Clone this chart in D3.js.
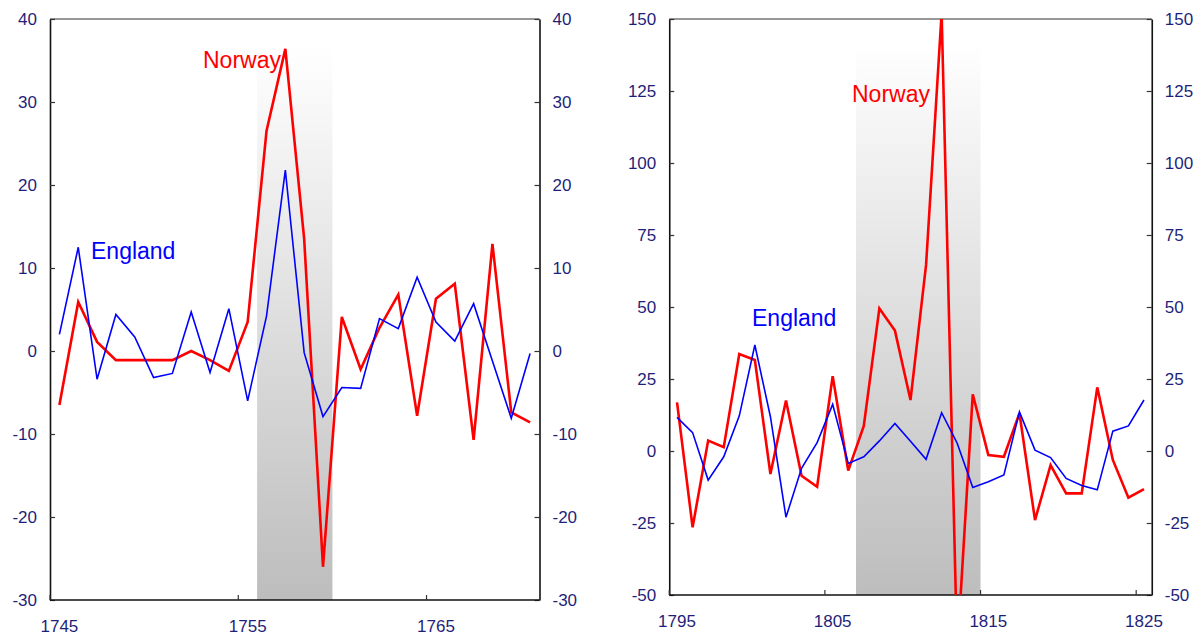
<!DOCTYPE html>
<html>
<head>
<meta charset="utf-8">
<style>
    body { margin: 0; background: #fff; }
    svg { display: block; font-family: "Liberation Sans", Arial, sans-serif; }
    .tick-label { font-size: 17px; fill: #1f1f7a; }
    .serie-label { font-size: 23px; }
</style>
<script src="https://cdn.jsdelivr.net/npm/d3@7"></script>
</head>
<body>
<svg width="1200" height="635"></svg>
<script>
    // painel esquerdo: 1745-1770
    var anosA = d3.range(1745, 1771);
    var inglaterraA = [2.0, 12.5, -3.4, 4.4, 1.7, -3.2, -2.7, 4.7, -2.6, 5.1, -6.0, 4.2, 21.8,
        -0.2, -7.9, -4.4, -4.5, 3.9, 2.7, 8.9, 3.5, 1.2, 5.7, -1.2, -8.1, -0.3];
    var noruegaA = [-6.5, 5.9, 1.1, -1.1, -1.1, -1.1, -1.1, 0.0, -1.1, -2.4, 3.5, 26.5, 36.4,
        13.5, -26.0, 4.1, -2.2, 2.8, 6.8, -7.8, 6.3, 8.1, -10.7, 12.9, -7.4, -8.6];
    var rotulosA = [1745, 1755, 1765];
    var ticksYA = d3.range(-30, 41, 10);
    var sombraA = [1756, 1759, 36.8];

    // painel direito: 1795-1825
    var anosB = d3.range(1795, 1826);
    var inglaterraB = [11.7, 6.4, -10.1, -2.0, 12.2, 36.8, 11.9, -23.0, -6.0, 2.9, 16.2, -4.3,
        -2.0, 3.5, 9.6, 3.4, -2.9, 13.3, 2.7, -12.7, -10.7, -8.3, 13.6, 0.3, -2.3, -9.5,
        -12.0, -13.5, 6.9, 8.7, 17.7];
    var noruegaB = [16.9, -26.5, 3.6, 1.3, 33.7, 31.6, -8.0, 17.5, -8.6, -12.4, 26.0, -6.8,
        8.7, 49.5, 41.8, 17.7, 64.6, 152, -70, 19.7, -1.4, -2.0, 13.1, -24.0, -4.9, -14.7,
        -14.7, 22.1, -3.1, -16.2, -13.2];
    var rotulosB = [1795, 1805, 1815, 1825];
    var ticksYB = d3.range(-50, 151, 25);
    var sombraB = [1807, 1814, 142.5];

    var svg = d3.select("svg");

    var defs = svg.append("defs");
    var grad = defs.append("linearGradient")
        .attr("id", "sombra")
        .attr("x1", 0).attr("y1", 0).attr("x2", 0).attr("y2", 1);
    grad.append("stop").attr("offset", "0%").attr("stop-color", "#ffffff");
    grad.append("stop").attr("offset", "100%").attr("stop-color", "#bdbdbd");

    function painel(id, cfg) {
        var x = d3.scaleBand().domain(cfg.anos).range([cfg.esq, cfg.dir]);
        var y = d3.scaleLinear().domain(cfg.dominioY).range([cfg.base, cfg.topo]);
        var g = svg.append("g");

        defs.append("clipPath").attr("id", "clip-" + id)
            .append("rect")
            .attr("x", cfg.esq).attr("y", cfg.topo)
            .attr("width", cfg.dir - cfg.esq).attr("height", cfg.base - cfg.topo);

        // faixa sombreada
        g.append("rect")
            .attr("x", x(cfg.sombra[0]))
            .attr("y", y(cfg.sombra[2]))
            .attr("width", x(cfg.sombra[1]) + x.bandwidth() - x(cfg.sombra[0]))
            .attr("height", cfg.base - y(cfg.sombra[2]))
            .attr("fill", "url(#sombra)");

        // moldura
        g.append("line")
            .attr("x1", cfg.esq).attr("x2", cfg.dir)
            .attr("y1", cfg.topo).attr("y2", cfg.topo)
            .attr("stroke", "#333").attr("stroke-width", 1.2);

        var fmt = function (d) { return String(d); };
        var eixoEsq = d3.axisLeft(y).tickValues(cfg.ticksY).tickFormat(fmt)
            .tickSizeInner(-5).tickSizeOuter(0).tickPadding(13);
        var eixoDir = d3.axisRight(y).tickValues(cfg.ticksY).tickFormat(fmt)
            .tickSizeInner(-5).tickSizeOuter(0).tickPadding(13);

        [[eixoEsq, cfg.esq], [eixoDir, cfg.dir]].forEach(function (e) {
            var ax = g.append("g")
                .attr("transform", "translate(" + e[1] + ",0)")
                .call(e[0]);
            ax.attr("font-size", null).attr("font-family", null);
            ax.select(".domain").attr("stroke", "#111").attr("stroke-width", 1.6);
            ax.selectAll(".tick line").attr("stroke", "#333").attr("stroke-width", 1.2);
            ax.selectAll(".tick text")
                .attr("class", "tick-label")
                .attr("fill", "#1f1f7a");
        });

        // eixo inferior
        g.append("line")
            .attr("x1", cfg.esq).attr("x2", cfg.dir)
            .attr("y1", cfg.base).attr("y2", cfg.base)
            .attr("stroke", "#111").attr("stroke-width", 1.6);

        g.selectAll(".xtick")
            .data(cfg.rotulos)
            .enter().append("line")
            .attr("x1", function (d) { return x(d); })
            .attr("x2", function (d) { return x(d); })
            .attr("y1", cfg.base)
            .attr("y2", cfg.base - 5)
            .attr("stroke", "#333").attr("stroke-width", 1.2);

        g.selectAll(".xlabel")
            .data(cfg.rotulos)
            .enter().append("text")
            .attr("class", "tick-label")
            .attr("x", function (d) { return x(d) + x.bandwidth() / 2; })
            .attr("y", cfg.base + 32)
            .attr("text-anchor", "middle")
            .text(function (d) { return d; });

        var linha = d3.line()
            .x(function (d, i) { return x(cfg.anos[i]) + x.bandwidth() / 2; })
            .y(function (d) { return y(d); });

        var plot = g.append("g").attr("clip-path", "url(#clip-" + id + ")");

        plot.append("path")
            .datum(cfg.noruega)
            .attr("d", linha)
            .attr("fill", "none")
            .attr("stroke", "#ff0000")
            .attr("stroke-width", 2.6)
            .attr("stroke-linejoin", "miter");

        plot.append("path")
            .datum(cfg.inglaterra)
            .attr("d", linha)
            .attr("fill", "none")
            .attr("stroke", "#0000ff")
            .attr("stroke-width", 1.6);

        g.append("text")
            .attr("class", "serie-label")
            .attr("x", cfg.posNoruega[0]).attr("y", cfg.posNoruega[1])
            .attr("fill", "#ff0000")
            .text("Norway");

        g.append("text")
            .attr("class", "serie-label")
            .attr("x", cfg.posInglaterra[0]).attr("y", cfg.posInglaterra[1])
            .attr("fill", "#0000ff")
            .text("England");
    }

    painel("a", {
        anos: anosA, inglaterra: inglaterraA, noruega: noruegaA,
        rotulos: rotulosA, ticksY: ticksYA, sombra: sombraA,
        dominioY: [-30, 40], esq: 50, dir: 539.5, topo: 19, base: 600,
        posNoruega: [203, 68], posInglaterra: [91, 259]
    });

    painel("b", {
        anos: anosB, inglaterra: inglaterraB, noruega: noruegaB,
        rotulos: rotulosB, ticksY: ticksYB, sombra: sombraB,
        dominioY: [-50, 150], esq: 669.25, dir: 1151.75, topo: 19, base: 595,
        posNoruega: [852, 102], posInglaterra: [752, 326]
    });
</script>
</body>
</html>
